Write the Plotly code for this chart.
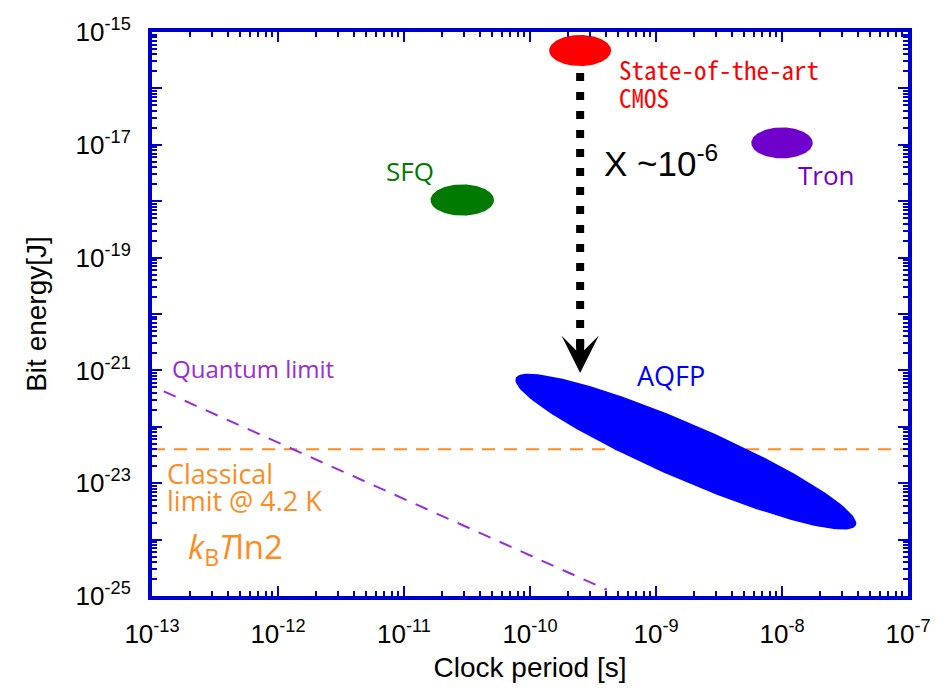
import numpy as np
import plotly.graph_objects as go

# ---------------- data ----------------
x_exponents = [-13, -12, -11, -10, -9, -8, -7]
y_exponents = [-15, -16, -17, -18, -19, -20, -21, -22, -23, -24, -25]
y_label_exponents = [-15, -17, -19, -21, -23, -25]

# small (axis-aligned) technology ellipses
tech_names = ["CMOS", "SFQ", "Tron"]
tech_period = [2.5e-10, 2.9e-11, 1.0e-8]        # s, ellipse centre
tech_energy = [4.7e-16, 1.05e-18, 1.08e-17]     # J, ellipse centre
tech_colors = ["#FF0000", "#007A00", "#7000CC"]
tech_half_dec_x = [0.246, 0.252, 0.244]         # half-width in decades
tech_half_dec_y = [0.275, 0.278, 0.275]         # half-height in decades

# AQFP ellipse: two end points of its long axis
aqfp_tip_period = [7.7e-11, 3.86e-8]
aqfp_tip_energy = [7.3e-22, 1.8e-24]
aqfp_color = "#0000FF"

# limits
quantum_period = [1.24e-13, 4.07e-10]
quantum_energy = [4.25e-22, 1.29e-25]
classical_period = [1e-13, 1e-7]
classical_energy = [4.0e-23, 4.0e-23]

# CMOS -> AQFP improvement arrow
arrow_period = [2.5e-10, 2.5e-10]
arrow_energy = [1.87e-16, 2.6e-21]
arrow_tip_energy = 9.0e-22

# ---------------- layout geometry ----------------
# (the page body adds an 8 px offset on the top/left)
W, H = 933, 675
ML, MR, MT, MB = 144, 33, 24, 87
PW, PH = W - ML - MR, H - MT - MB
PX_DEC_X = PW / 6.0
PX_DEC_Y = PH / 10.0

AXIS_BLUE = "#0000CC"
ORANGE = "#FF8C1E"
QPURPLE = "#9A2BDB"

fig = go.Figure()

# classical limit
fig.add_trace(go.Scatter(x=classical_period, y=classical_energy, mode="lines",
                         line=dict(color=ORANGE, width=2, dash="13px,9px"),
                         hoverinfo="skip", showlegend=False))
# quantum limit
fig.add_trace(go.Scatter(x=quantum_period, y=quantum_energy, mode="lines",
                         line=dict(color=QPURPLE, width=2, dash="13px,10px"),
                         hoverinfo="skip", showlegend=False))

t = np.linspace(0, 2 * np.pi, 181)

# small ellipses
for px, en, col, hx, hy in zip(tech_period, tech_energy, tech_colors,
                               tech_half_dec_x, tech_half_dec_y):
    lx = np.log10(px) + hx * np.cos(t)
    ly = np.log10(en) + hy * np.sin(t)
    fig.add_trace(go.Scatter(x=10 ** lx, y=10 ** ly, mode="lines", fill="toself",
                             fillcolor=col, line=dict(width=0, color=col),
                             hoverinfo="skip", showlegend=False))

# AQFP rotated ellipse (built in screen-like space)
u = [np.log10(p) * PX_DEC_X for p in aqfp_tip_period]
v = [-np.log10(e) * PX_DEC_Y for e in aqfp_tip_energy]
cu, cv = (u[0] + u[1]) / 2, (v[0] + v[1]) / 2
a = 0.5 * np.hypot(u[1] - u[0], v[1] - v[0])
b = 28.0
th = np.arctan2(v[1] - v[0], u[1] - u[0])
pu = cu + a * np.cos(t) * np.cos(th) - b * np.sin(t) * np.sin(th)
pv = cv + a * np.cos(t) * np.sin(th) + b * np.sin(t) * np.cos(th)
fig.add_trace(go.Scatter(x=10 ** (pu / PX_DEC_X), y=10 ** (-pv / PX_DEC_Y),
                         mode="lines", fill="toself", fillcolor=aqfp_color,
                         line=dict(width=0, color=aqfp_color),
                         hoverinfo="skip", showlegend=False))

# dotted arrow shaft
fig.add_trace(go.Scatter(x=arrow_period, y=arrow_energy, mode="lines",
                         line=dict(color="black", width=8, dash="8px,11px"),
                         hoverinfo="skip", showlegend=False))

L = np.log10
ann = []
# arrow head
ann.append(dict(x=L(arrow_period[0]), y=L(arrow_tip_energy), xref="x", yref="y",
                text="", showarrow=True, arrowhead=3, arrowsize=0.78, arrowwidth=8,
                arrowcolor="black", ax=0, ay=-34))

LAB = "Open Sans, Noto Sans, sans-serif"
def label(x, y, text, color, size, family=LAB, xanchor="left"):
    ann.append(dict(x=L(x), y=L(y), xref="x", yref="y", text=text, showarrow=False,
                    xanchor=xanchor, yanchor="middle",
                    font=dict(family=family, size=size, color=color)))

MONO = "Noto Sans Mono CJK JP, DejaVu Sans Mono, monospace"
label(4.9e-10, 10 ** -15.66, "State-of-the-art", "#FF0000", 25, MONO)
label(4.9e-10, 10 ** -16.15, "CMOS", "#FF0000", 25, MONO)
label(10 ** -10.956, 10 ** -17.47, "SFQ", "#007A00", 26, xanchor="center")
label(10 ** -7.647, 10 ** -17.54, "Tron", "#7000CC", 26, xanchor="center")
label(10 ** -8.881, 10 ** -21.09, "AQFP", "#0000FF", 27, xanchor="center")
label(10 ** -12.86, 10 ** -20.97, "Quantum limit", QPURPLE, 24)
label(10 ** -12.9, 10 ** -22.82, "Classical", ORANGE, 27)
label(10 ** -12.9, 10 ** -23.30, "limit @ 4.2 K", ORANGE, 27)
label(10 ** -12.73, 10 ** -24.15, "<i>k</i><sub>B</sub><i>T</i>ln2", ORANGE, 33)
label(10 ** -9.43, 10 ** -17.29, "X ~10<sup>-6</sup>", "black", 35,
      "Liberation Sans, Arial, sans-serif")

def sup(e):
    return "10<sup>%d</sup>" % e

x_minor = [k * 10.0 ** e for e in x_exponents[:-1] for k in range(2, 10)]
y_minor = [k * 10.0 ** e for e in y_exponents[1:] for k in range(2, 10)]

TICKFONT = dict(family="Liberation Sans, Arial, sans-serif", size=26, color="black")
common = dict(type="log", showgrid=False, zeroline=False, showline=True,
              linecolor=AXIS_BLUE, linewidth=4, mirror="allticks",
              ticks="inside", ticklen=10, tickwidth=2, tickcolor=AXIS_BLUE,
              tickfont=TICKFONT, automargin=False)

fig.update_xaxes(range=[-13, -7], tickmode="array",
                 tickvals=[10.0 ** e for e in x_exponents],
                 ticktext=[sup(e) for e in x_exponents],
                 ticklabelstandoff=12,
                 minor=dict(tickmode="array", tickvals=x_minor, ticks="inside",
                            ticklen=5, tickwidth=2, tickcolor=AXIS_BLUE, showgrid=False),
                 title=dict(text="Clock period [s]", standoff=14,
                            font=dict(family="Liberation Sans, Arial, sans-serif",
                                      size=28, color="black")),
                 **common)
fig.update_yaxes(range=[-25, -15], tickmode="array",
                 tickvals=[10.0 ** e for e in y_exponents],
                 ticktext=[sup(e) if e in y_label_exponents else "" for e in y_exponents],
                 ticklabelstandoff=12,
                 minor=dict(tickmode="array", tickvals=y_minor, ticks="inside",
                            ticklen=5, tickwidth=2, tickcolor=AXIS_BLUE, showgrid=False),
                 title=dict(text="Bit energy[J]", standoff=22,
                            font=dict(family="Liberation Sans, Arial, sans-serif",
                                      size=28, color="black")),
                 **common)

fig.update_layout(width=W, height=H, margin=dict(l=ML, r=MR, t=MT, b=MB),
                  plot_bgcolor="white", paper_bgcolor="white",
                  annotations=ann, showlegend=False)

fig.write_html("out.html")
